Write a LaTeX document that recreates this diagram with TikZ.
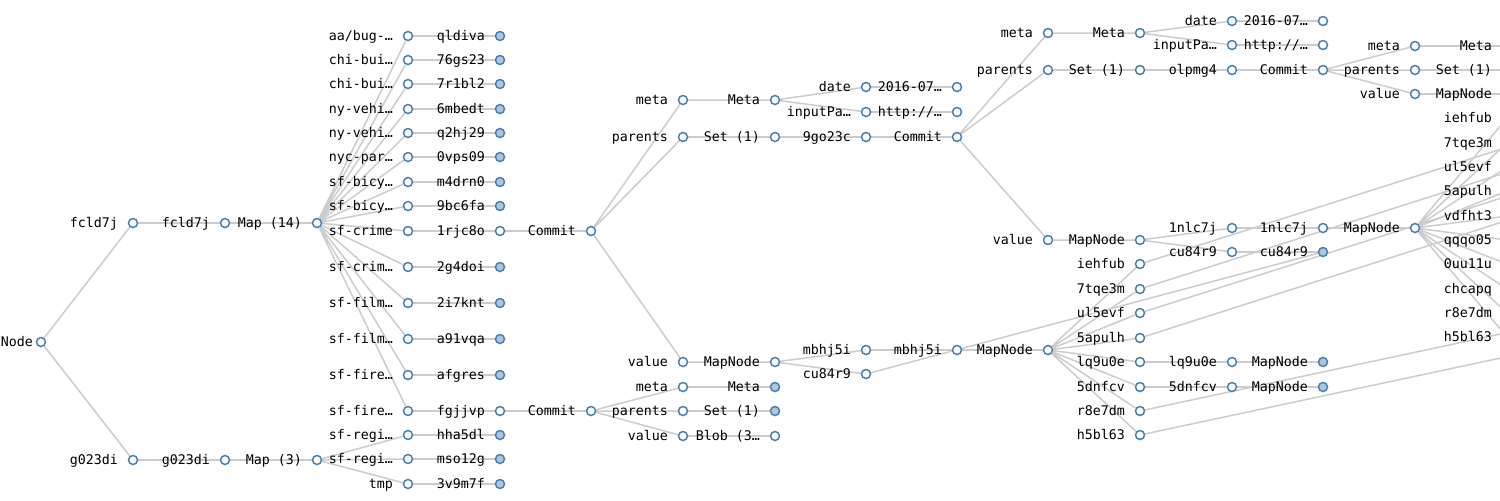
\documentclass[tikz,border=0pt]{standalone}
\usepackage{xcolor}
\usepackage{fontspec}
\usepackage{tikz}
\usetikzlibrary{backgrounds}
\newfontfamily\monofont{DejaVu Sans Mono}
\definecolor{steelblue}{RGB}{70,130,180}
\definecolor{lightsteel}{RGB}{176,196,222}
\definecolor{linkgray}{RGB}{204,204,204}
\tikzstyle{tsLabel} = [
    text=black,
    font=\monofont\fontsize{6.65}{8}\selectfont,
    inner sep=0pt,
    text height=5pt,
    text depth=1.6pt,
    xshift=-4.75pt,
    yshift=-0.6pt
]
\tikzstyle{tsDot} = [
    circle,
    draw=steelblue,
    fill=white,
    line width=0.75pt,
    minimum size=4.5pt,
    inner sep=0pt,
    label distance=0pt
]
\tikzstyle{tsDotFull} = [
    tsDot,
    fill=lightsteel
]
\tikzstyle{tsLink} = [
    draw=linkgray,
    line width=0.75pt
]

\begin{document}
\begin{tikzpicture}[x=0.5pt, y=-0.5pt]

    \useasboundingbox (0,0) rectangle (1500,500);

    % root and the two datasets
    \node[tsDot, label={[tsLabel, xshift=3.5pt]left:Node}] (root) at (41,342) {};
    \node[tsDot, label={[tsLabel]left:fcld7j}] (fa) at (133,223) {};
    \node[tsDot, label={[tsLabel]left:fcld7j}] (fb) at (225,223) {};
    \node[tsDot, label={[tsLabel]left:{Map (14)}}] (mapA) at (317,223) {};
    \node[tsDot, label={[tsLabel]left:g023di}] (ga) at (133,460) {};
    \node[tsDot, label={[tsLabel]left:g023di}] (gb) at (225,460) {};
    \node[tsDot, label={[tsLabel]left:{Map (3)}}] (mapB) at (317,460) {};

    % keys of Map (14)
    \node[tsDot, label={[tsLabel]left:{aa/bug-…}}] (ka1) at (408,36) {};
    \node[tsDot, label={[tsLabel]left:{chi-bui…}}] (ka2) at (408,60) {};
    \node[tsDot, label={[tsLabel]left:{chi-bui…}}] (ka3) at (408,84) {};
    \node[tsDot, label={[tsLabel]left:{ny-vehi…}}] (ka4) at (408,109) {};
    \node[tsDot, label={[tsLabel]left:{ny-vehi…}}] (ka5) at (408,133) {};
    \node[tsDot, label={[tsLabel]left:{nyc-par…}}] (ka6) at (408,157) {};
    \node[tsDot, label={[tsLabel]left:{sf-bicy…}}] (ka7) at (408,182) {};
    \node[tsDot, label={[tsLabel]left:{sf-bicy…}}] (ka8) at (408,206) {};
    \node[tsDot, label={[tsLabel]left:{sf-crime}}] (ka9) at (408,231) {};
    \node[tsDot, label={[tsLabel]left:{sf-crim…}}] (ka10) at (408,267) {};
    \node[tsDot, label={[tsLabel]left:{sf-film…}}] (ka11) at (408,303) {};
    \node[tsDot, label={[tsLabel]left:{sf-film…}}] (ka12) at (408,339) {};
    \node[tsDot, label={[tsLabel]left:{sf-fire…}}] (ka13) at (408,375) {};
    \node[tsDot, label={[tsLabel]left:{sf-fire…}}] (ka14) at (408,411) {};

    % keys of Map (3)
    \node[tsDot, label={[tsLabel]left:{sf-regi…}}] (kb1) at (408,435) {};
    \node[tsDot, label={[tsLabel]left:{sf-regi…}}] (kb2) at (408,459) {};
    \node[tsDot, label={[tsLabel]left:tmp}] (kb3) at (408,484) {};

    % values
    \node[tsDotFull, label={[tsLabel]left:qldiva}] (va1) at (500,36) {};
    \node[tsDotFull, label={[tsLabel]left:76gs23}] (va2) at (500,60) {};
    \node[tsDotFull, label={[tsLabel]left:7r1bl2}] (va3) at (500,84) {};
    \node[tsDotFull, label={[tsLabel]left:6mbedt}] (va4) at (500,109) {};
    \node[tsDotFull, label={[tsLabel]left:q2hj29}] (va5) at (500,133) {};
    \node[tsDotFull, label={[tsLabel]left:0vps09}] (va6) at (500,157) {};
    \node[tsDotFull, label={[tsLabel]left:m4drn0}] (va7) at (500,182) {};
    \node[tsDotFull, label={[tsLabel]left:9bc6fa}] (va8) at (500,206) {};
    \node[tsDot, label={[tsLabel]left:1rjc8o}] (va9) at (500,231) {};
    \node[tsDotFull, label={[tsLabel]left:2g4doi}] (va10) at (500,267) {};
    \node[tsDotFull, label={[tsLabel]left:2i7knt}] (va11) at (500,303) {};
    \node[tsDotFull, label={[tsLabel]left:a91vqa}] (va12) at (500,339) {};
    \node[tsDotFull, label={[tsLabel]left:afgres}] (va13) at (500,375) {};
    \node[tsDot, label={[tsLabel]left:fgjjvp}] (va14) at (500,411) {};
    \node[tsDotFull, label={[tsLabel]left:hha5dl}] (vb1) at (500,435) {};
    \node[tsDotFull, label={[tsLabel]left:mso12g}] (vb2) at (500,459) {};
    \node[tsDotFull, label={[tsLabel]left:3v9m7f}] (vb3) at (500,484) {};

    % first commit
    \node[tsDot, label={[tsLabel]left:Commit}] (cmA) at (591,231) {};
    \node[tsDot, label={[tsLabel]left:meta}] (metaA) at (683,100) {};
    \node[tsDot, label={[tsLabel]left:parents}] (parA) at (683,137) {};
    \node[tsDot, label={[tsLabel]left:value}] (valA) at (683,362) {};
    \node[tsDot, label={[tsLabel]left:Meta}] (metaA2) at (775,100) {};
    \node[tsDot, label={[tsLabel]left:date}] (dateA) at (866,87) {};
    \node[tsDot, label={[tsLabel]left:{inputPa…}}] (inpA) at (866,112) {};
    \node[tsDot, label={[tsLabel]left:{2016-07…}}] (dateA2) at (957,87) {};
    \node[tsDot, label={[tsLabel]left:{http://…}}] (inpA2) at (957,112) {};
    \node[tsDot, label={[tsLabel]left:{Set (1)}}] (setA) at (775,137) {};
    \node[tsDot, label={[tsLabel]left:9go23c}] (hashA) at (866,137) {};
    \node[tsDot, label={[tsLabel]left:MapNode}] (mapNA) at (775,362) {};
    \node[tsDot, label={[tsLabel]left:mbhj5i}] (mbA) at (866,350) {};
    \node[tsDot, label={[tsLabel]left:cu84r9}] (cuA) at (866,374) {};
    \node[tsDot, label={[tsLabel]left:mbhj5i}] (mbA2) at (957,350) {};

    % second commit
    \node[tsDot, label={[tsLabel]left:Commit}] (cmC) at (591,411) {};
    \node[tsDot, label={[tsLabel]left:meta}] (metaC) at (683,387) {};
    \node[tsDot, label={[tsLabel]left:parents}] (parC) at (683,411) {};
    \node[tsDot, label={[tsLabel]left:value}] (valC) at (683,436) {};
    \node[tsDotFull, label={[tsLabel]left:Meta}] (metaC2) at (775,387) {};
    \node[tsDotFull, label={[tsLabel]left:{Set (1)}}] (setC) at (775,411) {};
    \node[tsDot, label={[tsLabel]left:{Blob (3…}}] (blobC) at (775,436) {};

    % parent commit
    \node[tsDot, label={[tsLabel]left:Commit}] (cmB) at (957,137) {};
    \node[tsDot, label={[tsLabel]left:meta}] (metaB) at (1048,33) {};
    \node[tsDot, label={[tsLabel]left:parents}] (parB) at (1048,70) {};
    \node[tsDot, label={[tsLabel]left:value}] (valB) at (1048,240) {};
    \node[tsDot, label={[tsLabel]left:Meta}] (metaB2) at (1140,33) {};
    \node[tsDot, label={[tsLabel]left:date}] (dateB) at (1232,21) {};
    \node[tsDot, label={[tsLabel]left:{inputPa…}}] (inpB) at (1232,45) {};
    \node[tsDot, label={[tsLabel]left:{2016-07…}}] (dateB2) at (1323,21) {};
    \node[tsDot, label={[tsLabel]left:{http://…}}] (inpB2) at (1323,45) {};
    \node[tsDot, label={[tsLabel]left:{Set (1)}}] (setB) at (1140,70) {};
    \node[tsDot, label={[tsLabel]left:olpmg4}] (hashB) at (1232,70) {};
    \node[tsDot, label={[tsLabel]left:MapNode}] (mapNC) at (1140,240) {};
    \node[tsDot, label={[tsLabel]left:1nlc7j}] (nlA) at (1232,228) {};
    \node[tsDot, label={[tsLabel]left:cu84r9}] (cuB) at (1232,252) {};
    \node[tsDot, label={[tsLabel]left:1nlc7j}] (nlB) at (1323,228) {};
    \node[tsDotFull, label={[tsLabel]left:cu84r9}] (cuC) at (1323,252) {};

    % grandparent commit
    \node[tsDot, label={[tsLabel]left:Commit}] (cmD) at (1323,70) {};
    \node[tsDot, label={[tsLabel]left:meta}] (metaD) at (1415,46) {};
    \node[tsDot, label={[tsLabel]left:parents}] (parD) at (1415,70) {};
    \node[tsDot, label={[tsLabel]left:value}] (valD) at (1415,94) {};
    \node[tsDot, label={[tsLabel]left:Meta}] (metaD2) at (1507,46) {};
    \node[tsDot, label={[tsLabel]left:{Set (1)}}] (setD) at (1507,70) {};
    \node[tsDot, label={[tsLabel]left:MapNode}] (mapNE) at (1507,94) {};

    % right MapNode and its entries
    \node[tsDot, label={[tsLabel]left:MapNode}] (mapND) at (1415,228) {};
    \node[tsDot, label={[tsLabel]left:iehfub}] (e1) at (1507,118) {};
    \node[tsDot, label={[tsLabel]left:7tqe3m}] (e2) at (1507,143) {};
    \node[tsDot, label={[tsLabel]left:ul5evf}] (e3) at (1507,167) {};
    \node[tsDot, label={[tsLabel]left:5apulh}] (e4) at (1507,191) {};
    \node[tsDot, label={[tsLabel]left:vdfht3}] (e5) at (1507,216) {};
    \node[tsDot, label={[tsLabel]left:qqqo05}] (e6) at (1507,240) {};
    \node[tsDot, label={[tsLabel]left:0uu11u}] (e7) at (1507,264) {};
    \node[tsDot, label={[tsLabel]left:chcapq}] (e8) at (1507,289) {};
    \node[tsDot, label={[tsLabel]left:r8e7dm}] (e9) at (1507,313) {};
    \node[tsDot, label={[tsLabel]left:h5bl63}] (e10) at (1507,337) {};

    % lower MapNode and its entries
    \node[tsDot, label={[tsLabel]left:MapNode}] (mapNB) at (1048,350) {};
    \node[tsDot, label={[tsLabel]left:iehfub}] (d1) at (1140,264) {};
    \node[tsDot, label={[tsLabel]left:7tqe3m}] (d2) at (1140,289) {};
    \node[tsDot, label={[tsLabel]left:ul5evf}] (d3) at (1140,313) {};
    \node[tsDot, label={[tsLabel]left:5apulh}] (d4) at (1140,338) {};
    \node[tsDot, label={[tsLabel]left:lq9u0e}] (d5) at (1140,362) {};
    \node[tsDot, label={[tsLabel]left:5dnfcv}] (d6) at (1140,387) {};
    \node[tsDot, label={[tsLabel]left:r8e7dm}] (d7) at (1140,411) {};
    \node[tsDot, label={[tsLabel]left:h5bl63}] (d8) at (1140,435) {};
    \node[tsDot, label={[tsLabel]left:lq9u0e}] (lqB) at (1232,362) {};
    \node[tsDot, label={[tsLabel]left:5dnfcv}] (dnB) at (1232,387) {};
    \node[tsDotFull, label={[tsLabel]left:MapNode}] (mapNF) at (1323,362) {};
    \node[tsDotFull, label={[tsLabel]left:MapNode}] (mapNG) at (1323,387) {};

    % shared chunks beyond the right edge
    \coordinate (r1) at (1599,118);
    \coordinate (r2) at (1599,143);
    \coordinate (r3) at (1599,167);
    \coordinate (r4) at (1599,191);
    \coordinate (r9) at (1599,313);
    \coordinate (r10) at (1599,337);

    \begin{pgfonlayer}{background}
    \draw[tsLink] (root) -- (fa) (root) -- (ga);
    \draw[tsLink] (fa) -- (fb) -- (mapA);
    \draw[tsLink] (ga) -- (gb) -- (mapB);
    \draw[tsLink] (mapA) -- (ka1) (mapA) -- (ka2) (mapA) -- (ka3) (mapA) -- (ka4)
        (mapA) -- (ka5) (mapA) -- (ka6) (mapA) -- (ka7) (mapA) -- (ka8)
        (mapA) -- (ka9) (mapA) -- (ka10) (mapA) -- (ka11) (mapA) -- (ka12)
        (mapA) -- (ka13) (mapA) -- (ka14);
    \draw[tsLink] (mapB) -- (kb1) (mapB) -- (kb2) (mapB) -- (kb3);
    \draw[tsLink] (ka1) -- (va1) (ka2) -- (va2) (ka3) -- (va3) (ka4) -- (va4)
        (ka5) -- (va5) (ka6) -- (va6) (ka7) -- (va7) (ka8) -- (va8)
        (ka9) -- (va9) (ka10) -- (va10) (ka11) -- (va11) (ka12) -- (va12)
        (ka13) -- (va13) (ka14) -- (va14);
    \draw[tsLink] (kb1) -- (vb1) (kb2) -- (vb2) (kb3) -- (vb3);

    \draw[tsLink] (va9) -- (cmA);
    \draw[tsLink] (cmA) -- (metaA) (cmA) -- (parA) (cmA) -- (valA);
    \draw[tsLink] (metaA) -- (metaA2) (metaA2) -- (dateA) (metaA2) -- (inpA);
    \draw[tsLink] (dateA) -- (dateA2) (inpA) -- (inpA2);
    \draw[tsLink] (parA) -- (setA) -- (hashA) -- (cmB);
    \draw[tsLink] (valA) -- (mapNA) (mapNA) -- (mbA) (mapNA) -- (cuA);
    \draw[tsLink] (mbA) -- (mbA2) -- (mapNB);
    \draw[tsLink] (cuA) -- (cuC);

    \draw[tsLink] (va14) -- (cmC);
    \draw[tsLink] (cmC) -- (metaC) (cmC) -- (parC) (cmC) -- (valC);
    \draw[tsLink] (metaC) -- (metaC2) (parC) -- (setC) (valC) -- (blobC);

    \draw[tsLink] (cmB) -- (metaB) (cmB) -- (parB) (cmB) -- (valB);
    \draw[tsLink] (metaB) -- (metaB2) (metaB2) -- (dateB) (metaB2) -- (inpB);
    \draw[tsLink] (dateB) -- (dateB2) (inpB) -- (inpB2);
    \draw[tsLink] (parB) -- (setB) -- (hashB) -- (cmD);
    \draw[tsLink] (valB) -- (mapNC) (mapNC) -- (nlA) (mapNC) -- (cuB);
    \draw[tsLink] (nlA) -- (nlB) -- (mapND);
    \draw[tsLink] (cuB) -- (cuC);

    \draw[tsLink] (cmD) -- (metaD) (cmD) -- (parD) (cmD) -- (valD);
    \draw[tsLink] (metaD) -- (metaD2) (parD) -- (setD) (valD) -- (mapNE);
    \draw[tsLink] (mapND) -- (e1) (mapND) -- (e2) (mapND) -- (e3) (mapND) -- (e4)
        (mapND) -- (e5) (mapND) -- (e6) (mapND) -- (e7) (mapND) -- (e8)
        (mapND) -- (e9) (mapND) -- (e10);

    \draw[tsLink] (mapNB) -- (d1) (mapNB) -- (d2) (mapNB) -- (d3) (mapNB) -- (d4)
        (mapNB) -- (d5) (mapNB) -- (d6) (mapNB) -- (d7) (mapNB) -- (d8);
    \draw[tsLink] (d5) -- (lqB) -- (mapNF);
    \draw[tsLink] (d6) -- (dnB) -- (mapNG);
    \draw[tsLink] (d1) -- (r1) (d2) -- (r2) (d3) -- (r3) (d4) -- (r4)
        (d7) -- (r9) (d8) -- (r10);
    \end{pgfonlayer}

\end{tikzpicture}
\end{document}
